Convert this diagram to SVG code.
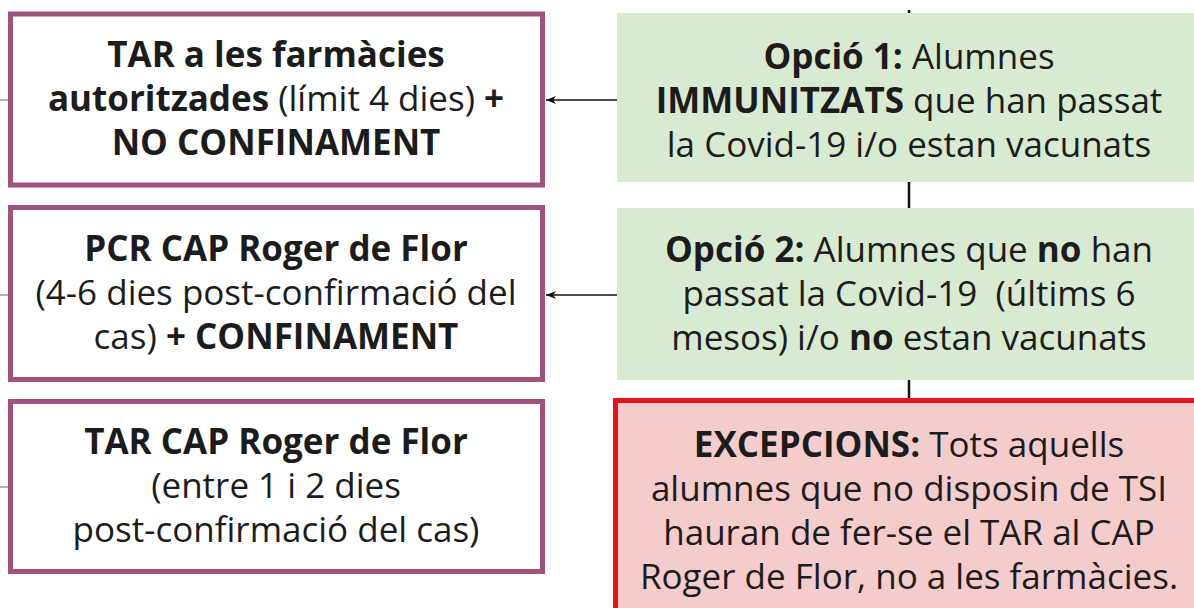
<svg xmlns="http://www.w3.org/2000/svg" width="1194" height="608" viewBox="0 0 1194 608">
<defs>
<marker id="ah" markerWidth="12" markerHeight="10" refX="11" refY="5" orient="auto" markerUnits="userSpaceOnUse">
<path d="M1,1 L11,5 L1,9 L4,5 Z" fill="#111"/>
</marker>
<style>
.pbox{fill:#ffffff;stroke:#9e527c;stroke-width:5}
.gbox{fill:#d9ead3;stroke:none}
.rbox{fill:#f4cccc;stroke:#e5141c;stroke-width:5}
.t{font-family:"Open Sans","Noto Sans","Liberation Sans",sans-serif;font-size:35px;fill:#1c1c1c;text-anchor:middle}
.b{font-weight:bold}
.ln{stroke:#111;stroke-width:2.5;fill:none}
.ar{stroke:#111;stroke-width:1.6;fill:none}
</style>
</defs>
<rect width="1194" height="608" fill="#ffffff"/>
<g id="connectors">
<line class="ln" x1="909" y1="10" x2="909" y2="14"/>
<line class="ln" x1="909" y1="182" x2="909" y2="208"/>
<line class="ln" x1="909" y1="380" x2="909" y2="400"/>
<line class="ar" x1="617" y1="100" x2="546" y2="100" marker-end="url(#ah)"/>
<line class="ar" x1="617" y1="295" x2="546" y2="295" marker-end="url(#ah)"/>
<line x1="0" y1="100" x2="8" y2="100" stroke="#666" stroke-width="1"/>
<line x1="0" y1="295" x2="8" y2="295" stroke="#666" stroke-width="1"/>
<line x1="0" y1="487" x2="8" y2="487" stroke="#666" stroke-width="1"/>
</g>
<g id="tar-farmacies">
<rect class="pbox" x="10.5" y="14" width="532" height="171"/>
<text class="t" x="276" y="67"><tspan class="b">TAR a les farmàcies</tspan></text>
<text class="t" x="276" y="111"><tspan class="b">autoritzades</tspan> (límit 4 dies) <tspan class="b">+</tspan></text>
<text class="t" x="276" y="155"><tspan class="b">NO CONFINAMENT</tspan></text>
</g>
<g id="pcr-cap">
<rect class="pbox" x="10.5" y="207.5" width="532" height="172"/>
<text class="t" x="276" y="261"><tspan class="b">PCR CAP Roger de Flor</tspan></text>
<text class="t" x="276" y="305">(4-6 dies post-confirmació del</text>
<text class="t" x="276" y="349">cas) <tspan class="b">+ CONFINAMENT</tspan></text>
</g>
<g id="tar-cap">
<rect class="pbox" x="10.5" y="401.5" width="532" height="170"/>
<text class="t" x="276" y="454"><tspan class="b">TAR CAP Roger de Flor</tspan></text>
<text class="t" x="276" y="498">(entre 1 i 2 dies</text>
<text class="t" x="276" y="542">post-confirmació del cas)</text>
</g>
<g id="opcio1">
<rect class="gbox" x="617" y="13" width="590" height="169"/>
<text class="t" x="909" y="69"><tspan class="b">Opció 1:</tspan> Alumnes</text>
<text class="t" x="909" y="113"><tspan class="b">IMMUNITZATS</tspan> que han passat</text>
<text class="t" x="909" y="157">la Covid-19 i/o estan vacunats</text>
</g>
<g id="opcio2">
<rect class="gbox" x="617" y="208" width="590" height="172"/>
<text class="t" x="909" y="262"><tspan class="b">Opció 2:</tspan> Alumnes que <tspan class="b">no</tspan> han</text>
<text class="t" x="909" y="306" xml:space="preserve">passat la Covid-19  (últims 6</text>
<text class="t" x="909" y="350">mesos) i/o <tspan class="b">no</tspan> estan vacunats</text>
</g>
<g id="excepcions">
<rect class="rbox" x="615.5" y="400.5" width="600" height="230"/>
<text class="t" x="909" y="457"><tspan class="b">EXCEPCIONS:</tspan> Tots aquells</text>
<text class="t" x="909" y="501">alumnes que no disposin de TSI</text>
<text class="t" x="909" y="545">hauran de fer-se el TAR al CAP</text>
<text class="t" x="909" y="589">Roger de Flor, no a les farmàcies.</text>
</g>
</svg>
